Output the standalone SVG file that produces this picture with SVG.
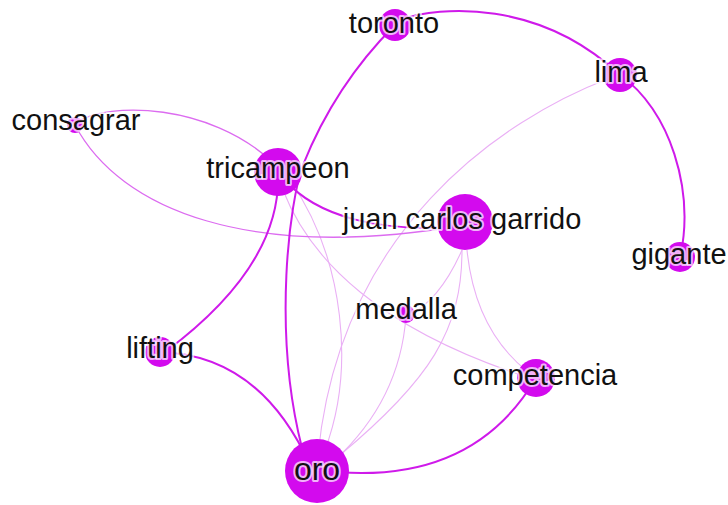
<svg xmlns="http://www.w3.org/2000/svg" width="728" height="505" viewBox="0 0 728 505">
<style>
.e{fill:none;stroke-linecap:round}
.s{stroke:#cf1aea;stroke-width:2}
.m{stroke:#dc6cf0;stroke-width:1.3}
.f{stroke:#eab0f5;stroke-width:1.1}
.n{fill:#d30aee}
.t{font-family:"Liberation Sans",Arial,sans-serif;font-size:29px;fill:#111;text-anchor:middle;stroke:#ffffff;stroke-opacity:0.7;stroke-width:4;paint-order:stroke;stroke-linejoin:round}
</style>
<rect width="728" height="505" fill="#ffffff"/>
<g id="connectors">
<path class="e f" d="M610 78 C500 120 340 230 318 455"/>
<path class="e f" d="M290 180 C345 260 355 370 325 450"/>
<path class="e f" d="M283 190 C310 260 380 330 530 378"/>
<path class="e f" d="M467 250 Q475 330 528 372"/>
<path class="e f" d="M462 250 C462 330 430 380 340 455"/>
<path class="e f" d="M462 250 Q440 300 408 316"/>
<path class="e f" d="M406 316 Q400 400 335 460"/>
<path class="e m" d="M75 123 C110 100 210 105 270 160"/>
<path class="e m" d="M75 125 C120 210 250 262 465 225"/>
<path class="e s" d="M395 25 Q335 85 303 165 C290 200 272 330 302 448"/>
<path class="e s" d="M400 20 C440 5 540 0 620 75"/>
<path class="e s" d="M620 75 C670 110 695 190 680 258"/>
<path class="e s" d="M285 180 C315 215 380 235 465 225"/>
<path class="e s" d="M278 172 Q282 265 165 352"/>
<path class="e s" d="M160 352 Q260 355 310 465"/>
<path class="e s" d="M317 470 Q470 490 536 378"/>
</g>
<g id="node-toronto"><circle class="n" cx="395" cy="25" r="16"/><text class="t" x="394" y="33">toronto</text></g>
<g id="node-lima"><circle class="n" cx="620" cy="75" r="17"/><text class="t" x="621" y="82">lima</text></g>
<g id="node-gigante"><circle class="n" cx="680" cy="257" r="15"/><text class="t" x="679" y="264">gigante</text></g>
<g id="node-consagrar"><circle class="n" cx="75" cy="125" r="8"/><text class="t" x="76" y="130">consagrar</text></g>
<g id="node-tricampeon"><circle class="n" cx="278" cy="172" r="24"/><text class="t" x="278" y="178">tricampeon</text></g>
<g id="node-juan-carlos-garrido"><circle class="n" cx="465" cy="222" r="28"/><text class="t" x="462" y="229">juan carlos garrido</text></g>
<g id="node-medalla"><circle class="n" cx="406" cy="314" r="9"/><text class="t" x="406" y="319">medalla</text></g>
<g id="node-competencia"><circle class="n" cx="536" cy="378" r="19"/><text class="t" x="535" y="385">competencia</text></g>
<g id="node-lifting"><circle class="n" cx="160" cy="352" r="15"/><text class="t" x="160" y="358">lifting</text></g>
<g id="node-oro"><circle class="n" cx="317" cy="471" r="32"/><text class="t" x="317" y="480" style="font-size:32px">oro</text></g>
</svg>
